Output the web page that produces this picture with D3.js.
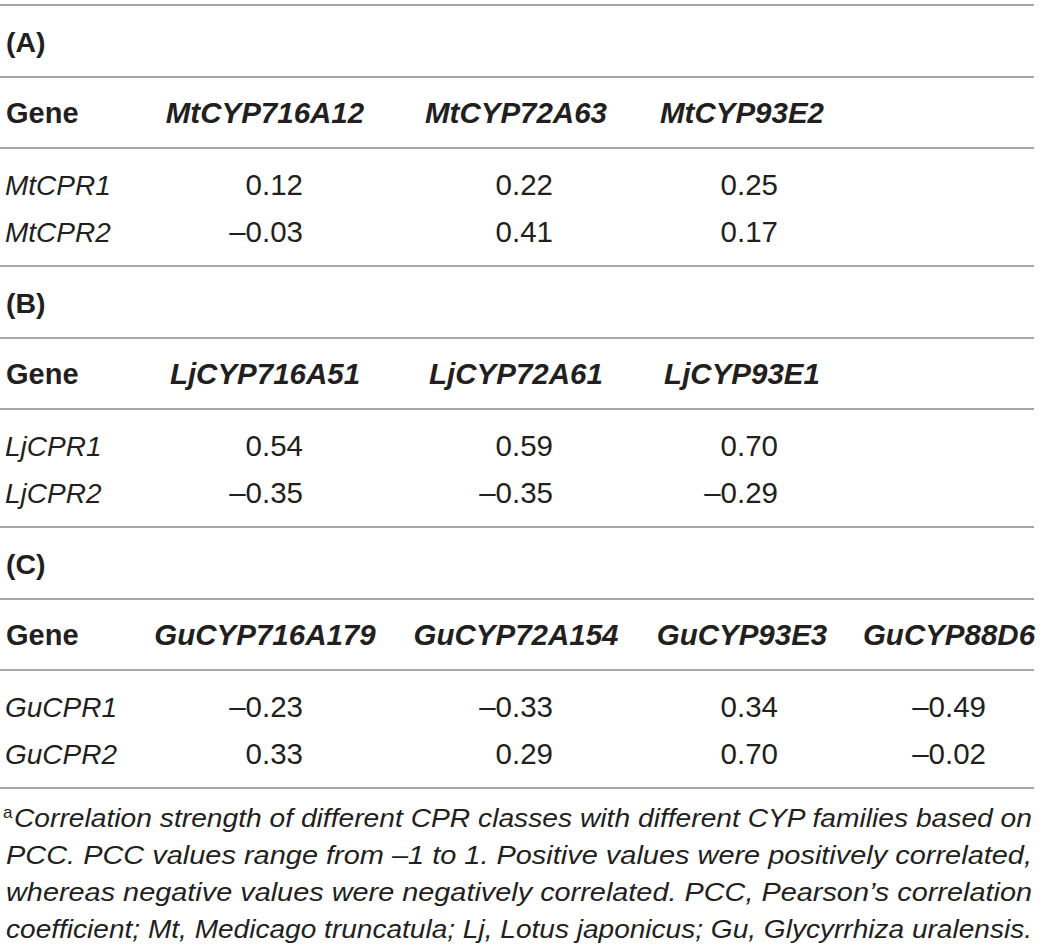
<!DOCTYPE html>
<html>
<head>
<meta charset="utf-8">
<script src="https://cdn.jsdelivr.net/npm/d3@7"></script>
<style>
html, body { margin: 0; padding: 0; background: #fff; }
svg { display: block; }
</style>
</head>
<body>
<svg id="svgMain"></svg>
<script>
// panels of the table
var panels = ["(A)", "(B)", "(C)"];

var headersA = ["MtCYP716A12", "MtCYP72A63", "MtCYP93E2"];
var rowsA = ["MtCPR1", "MtCPR2"];
var valuesA = [[0.12, 0.22, 0.25], [-0.03, 0.41, 0.17]];

var headersB = ["LjCYP716A51", "LjCYP72A61", "LjCYP93E1"];
var rowsB = ["LjCPR1", "LjCPR2"];
var valuesB = [[0.54, 0.59, 0.70], [-0.35, -0.35, -0.29]];

var headersC = ["GuCYP716A179", "GuCYP72A154", "GuCYP93E3", "GuCYP88D6"];
var rowsC = ["GuCPR1", "GuCPR2"];
var valuesC = [[-0.23, -0.33, 0.34, -0.49], [0.33, 0.29, 0.70, -0.02]];

var footLines = [
  "Correlation strength of different CPR classes with different CYP families based on",
  "PCC. PCC values range from \u20131 to 1. Positive values were positively correlated,",
  "whereas negative values were negatively correlated. PCC, Pearson\u2019s correlation",
  "coefficient; Mt, Medicago truncatula; Lj, Lotus japonicus; Gu, Glycyrrhiza uralensis."
];

var width = 1043, height = 950;
var font = "'Liberation Sans', Arial, Helvetica, sans-serif";
var ink = "#231f20", rule = "#a6a6a6";

var svg = d3.select("svg").attr("width", width).attr("height", height);

// column centres for headers, right edges for numbers
var colCenter = d3.scaleOrdinal().domain([0, 1, 2, 3]).range([265, 516, 742, 949]);
var colRight = d3.scaleOrdinal().domain([0, 1, 2, 3]).range([303, 553, 778, 986]);

// vertical layout inside one block (offset from its top rule)
var blockH = 261;
var blockY = d3.scaleLinear().domain([0, 1]).range([5, 5 + blockH]);
var rowBase = d3.scaleLinear().domain([0, 1]).range([190, 237]);

var fmt = function(v){
	var s = Math.abs(v).toFixed(2);
	return v < 0 ? "\u2013" + s : s;
};

var tables = [
  {label: panels[0], headers: headersA, rows: rowsA, values: valuesA},
  {label: panels[1], headers: headersB, rows: rowsB, values: valuesB},
  {label: panels[2], headers: headersC, rows: rowsC, values: valuesC}
];

tables.forEach(function(t, i){
	var top = blockY(i);
	var g = svg.append("g").attr("transform", "translate(0," + top + ")");

	[0, 72, 143].forEach(function(y){
		g.append("line")
			.attr("x1", 0).attr("x2", 1034)
			.attr("y1", y).attr("y2", y)
			.attr("stroke", rule).attr("stroke-width", 2);
	});

	g.append("text")
		.attr("x", 6).attr("y", 47)
		.attr("font-family", font).attr("font-weight", "bold")
		.attr("font-size", 28.5).attr("fill", ink)
		.text(t.label);

	g.append("text")
		.attr("x", 6).attr("y", 118)
		.attr("font-family", font).attr("font-weight", "bold")
		.attr("font-size", 29).attr("fill", ink)
		.text("Gene");

	g.selectAll("text.head")
		.data(t.headers)
		.enter().append("text")
		.attr("class", "head")
		.attr("x", function(d, j){ return colCenter(j); })
		.attr("y", 118)
		.attr("text-anchor", "middle")
		.attr("font-family", font).attr("font-weight", "bold")
		.attr("font-style", "italic")
		.attr("font-size", 29.5).attr("fill", ink)
		.text(function(d){ return d; });

	t.rows.forEach(function(r, k){
		g.append("text")
			.attr("x", 5).attr("y", rowBase(k))
			.attr("font-family", font).attr("font-style", "italic")
			.attr("font-size", 28).attr("fill", ink)
			.text(r);

		g.selectAll("text.v" + k)
			.data(t.values[k])
			.enter().append("text")
			.attr("class", "v" + k)
			.attr("x", function(d, j){ return colRight(j); })
			.attr("y", rowBase(k))
			.attr("text-anchor", "end")
			.attr("font-family", font)
			.attr("font-size", 29.5).attr("fill", ink)
			.text(fmt);
	});
});

// closing rule under table C
svg.append("line")
	.attr("x1", 0).attr("x2", 1034)
	.attr("y1", blockY(3)).attr("y2", blockY(3))
	.attr("stroke", rule).attr("stroke-width", 2);

// footnote, justified over the full width
var footY = d3.scaleLinear().domain([0, 1]).range([827, 864]);
footLines.forEach(function(line, i){
	var x0 = i === 0 ? 14 : 6;
	svg.append("text")
		.attr("x", x0).attr("y", footY(i))
		.attr("font-family", "'Liberation Sans Narrow', 'Liberation Sans', Arial, sans-serif")
		.attr("font-style", "italic")
		.attr("font-size", 26).attr("fill", ink)
		.attr("textLength", 1032 - x0)
		.attr("lengthAdjust", "spacingAndGlyphs")
		.text(line);
	if (i === 0){
		svg.append("text")
			.attr("x", 3).attr("y", footY(0) - 9)
			.attr("font-family", font)
			.attr("font-size", 17).attr("fill", ink)
			.text("a");
	}
});
</script>
</body>
</html>
